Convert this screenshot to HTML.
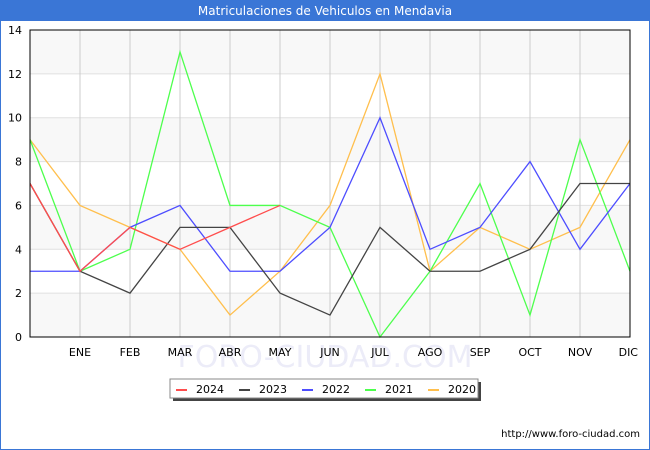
<!DOCTYPE html>
<html><head><meta charset="utf-8"><style>
body{margin:0;background:#fff;}
svg{display:block;font-family:"DejaVu Sans","Liberation Sans",sans-serif;}
</style></head><body>
<svg id="chart" width="650" height="450">
<rect x="0.5" y="0.5" width="649" height="449" fill="#fff" stroke="#3a76d6"/>
<rect x="0" y="0" width="650" height="21" fill="#3a76d6"/>
<text x="325" y="15" text-anchor="middle" fill="#fff" font-size="12">Matriculaciones de Vehiculos en Mendavia</text>
<g id="bands"></g><g id="grid"></g>
<text x="325" y="367" text-anchor="middle" font-size="30" fill="#ececf8">FORO-CIUDAD.COM</text>
<g id="series"></g>
<rect x="30" y="30" width="600" height="307" fill="none" stroke="#000"/>
<g id="ticks" font-size="11"></g>
<g>
<rect x="173" y="382" width="308" height="19" fill="#444"/>
<rect x="170" y="379" width="308" height="19" fill="#fff" stroke="#888"/>
<g id="legend-items" font-size="11"></g>
</g>
<text x="640" y="437" text-anchor="end" font-size="10" fill="#000">http://www.foro-ciudad.com</text>
</svg>
<script>
const categories=["","ENE","FEB","MAR","ABR","MAY","JUN","JUL","AGO","SEP","OCT","NOV","DIC"];
const yTicks=[0,2,4,6,8,10,12,14];
const seriesNames=["2020","2021","2022","2023","2024"];
const seriesColors=["#ffbf4d","#4dff4d","#4d4dff","#444444","#ff4d4d"];
const s2020=[9,6,5,4,1,3,6,12,3,5,4,5,9];
const s2021=[9,3,4,13,6,6,5,0,3,7,1,9,3];
const s2022=[3,3,5,6,3,3,5,10,4,5,8,4,7];
const s2023=[7,3,2,5,5,2,1,5,3,3,4,7,7];
const s2024=[7,3,5,4,5,6];
const allSeries=[s2020,s2021,s2022,s2023,s2024];
const NS="http://www.w3.org/2000/svg";
const X0=30,X1=630,Y0=337,Y1=30,YMAX=14;
const xs=i=>X0+i*(X1-X0)/(categories.length-1);
const ys=v=>Y0-v*(Y0-Y1)/YMAX;
function mk(t,a,p){const e=document.createElementNS(NS,t);for(const k in a)e.setAttribute(k,a[k]);p.appendChild(e);return e;}
const bands=document.getElementById('bands'),grid=document.getElementById('grid'),ticks=document.getElementById('ticks');
for(let v=0;v<YMAX;v+=4){const r=mk('rect',{x:X0,y:ys(v+2),width:X1-X0,height:ys(v)-ys(v+2),fill:'#f8f8f8'},bands);

}
yTicks.forEach(v=>{const l=mk('line',{x1:X0,x2:X1,y1:ys(v),y2:ys(v),stroke:'#e0e0e0'},grid);


const t=mk('text',{x:X0-8,y:ys(v)+4,'text-anchor':'end'},ticks);t.textContent=v;

});
categories.forEach((c,i)=>{const l=mk('line',{x1:xs(i),x2:xs(i),y1:Y1,y2:Y0,stroke:'#cccccc'},grid);


const t=mk('text',{x:xs(i),y:356,'text-anchor':i==12?'end':'middle'},ticks);if(i==12)t.setAttribute('x',X1+8);t.textContent=c;

});
const sg=document.getElementById('series');
allSeries.forEach((s,k)=>{const p=mk('polyline',{points:s.map((v,i)=>xs(i)+','+ys(v)).join(' '),fill:'none',stroke:seriesColors[k],'stroke-width':1.3},sg);

});
const lg=document.getElementById('legend-items');
[4,3,2,1,0].forEach((k,j)=>{const x=176+j*63;const g=mk('g',{},lg);


mk('line',{x1:x,x2:x+11,y1:390,y2:390,stroke:seriesColors[k],'stroke-width':2},g);
const t=mk('text',{x:x+20,y:393},g);t.textContent=seriesNames[k];});
</script>
</body></html>
